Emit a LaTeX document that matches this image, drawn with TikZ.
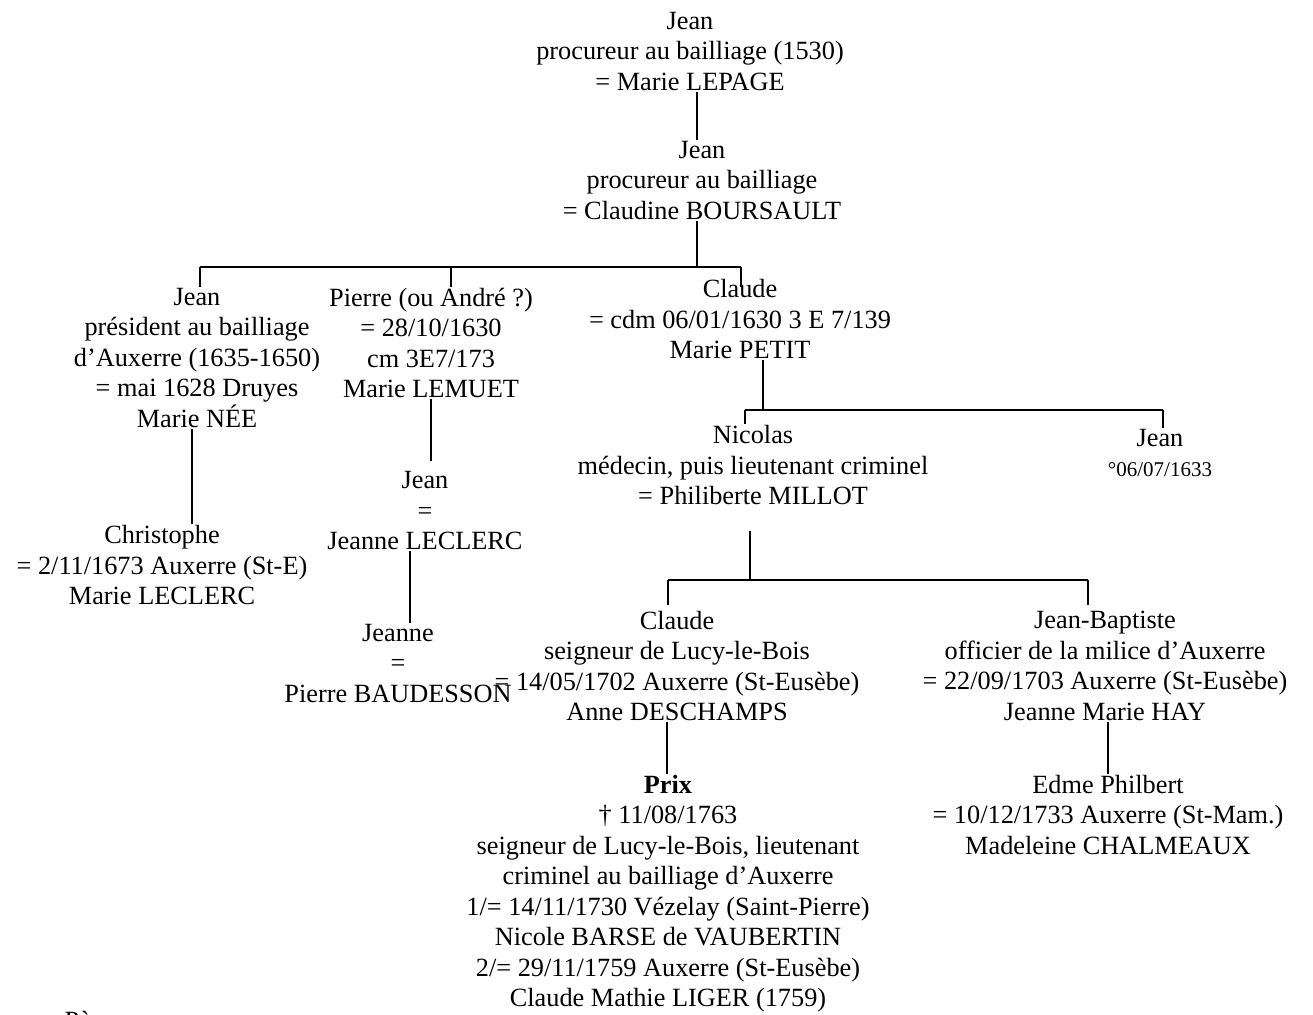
\documentclass[tikz,border=0pt]{standalone}
\usepackage{fontspec}
\setmainfont{Liberation Serif}
\begin{document}
\begin{tikzpicture}[x=1pt,y=-1pt,
  person/.style={font=\fontsize{26.3}{30.5}\selectfont, align=center, inner sep=1pt},
  conn/.style={line width=1.5pt}]
\useasboundingbox (0,0) rectangle (1313,1014);
% persons
\node[person] (A) at (690,51.5) {Jean\\procureur au bailliage (1530)\\= Marie LEPAGE};
\node[person] (B) at (702,180.5) {Jean\\procureur au bailliage\\= Claudine BOURSAULT};
\node[person] (C1) at (197,358) {Jean\\président au bailliage\\d’Auxerre (1635-1650)\\= mai 1628 Druyes\\Marie NÉE};
\node[person] (C2) at (431,343) {Pierre (ou André ?)\\= 28/10/1630\\cm 3E7/173\\Marie LEMUET};
\node[person] (C3) at (740,319.5) {Claude\\= cdm 06/01/1630 3 E 7/139\\Marie PETIT};
\node[person] (D1) at (162,565) {Christophe\\= 2/11/1673 Auxerre (St-E)\\Marie LECLERC};
\node[person] (D2) at (425,511) {Jean\\=\\Jeanne LECLERC};
\node[person] (E) at (398,663.5) {Jeanne\\=\\Pierre BAUDESSON};
\node[person] (F) at (753,465) {Nicolas\\médecin, puis lieutenant criminel\\= Philiberte MILLOT};
\node[person] (G) at (1160,453) {Jean\\{\fontsize{21}{26}\selectfont °06/07/1633}};
\node[person] (H1) at (677,666) {Claude\\seigneur de Lucy-le-Bois\\= 14/05/1702 Auxerre (St-Eusèbe)\\Anne DESCHAMPS};
\node[person] (H2) at (1105,666) {Jean-Baptiste\\officier de la milice d’Auxerre\\= 22/09/1703 Auxerre (St-Eusèbe)\\Jeanne Marie HAY};
\node[person] (I1) at (668,893.5) {\textbf{Prix}\\† 11/08/1763\\seigneur de Lucy-le-Bois, lieutenant\\criminel au bailliage d’Auxerre\\1/= 14/11/1730 Vézelay (Saint-Pierre)\\Nicole BARSE de VAUBERTIN\\2/= 29/11/1759 Auxerre (St-Eusèbe)\\Claude Mathie LIGER (1759)};
\node[person] (I2) at (1108,814.5) {Edme Philbert\\= 10/12/1733 Auxerre (St-Mam.)\\Madeleine CHALMEAUX};
\node[person, anchor=base] (P) at (88,1029) {Père};
% connectors
\coordinate (jB) at (697,267);
\coordinate (bL) at (200,267);
\coordinate (bM) at (451,267);
\coordinate (bR) at (741,267);
\draw[conn] (A.south -| jB) -- (B.north -| jB);
\draw[conn] (B.south -| jB) -- (jB);
\draw[conn] (bL) -- (bR);
\draw[conn] (bL) -- (bL |- C1.north);
\draw[conn] (bM) -- (bM |- C1.north);
\draw[conn] (bR) -- (bR |- C1.north);
\coordinate (x1) at (192,0);
\draw[conn] (C1.south -| x1) -- (D1.north -| x1);
\coordinate (x2) at (431,0);
\draw[conn, shorten >=10pt] (C2.south -| x2) -- (D2.north -| x2);
\coordinate (x3) at (410,0);
\draw[conn] (D2.south -| x3) -- (E.north -| x3);
\coordinate (jC) at (763,410);
\coordinate (cL) at (745,410);
\coordinate (cR) at (1163,410);
\draw[conn] (C3.south -| jC) -- (jC);
\draw[conn] (cL) -- (cR);
\draw[conn] (cL) -- (cL |- F.north);
\draw[conn] (cR) -- (cR |- G.north);
\coordinate (jF) at (750,580);
\coordinate (fL) at (668,580);
\coordinate (fR) at (1088,580);
\draw[conn, shorten <=25pt] (F.south -| jF) -- (jF);
\draw[conn] (fL) -- (fR);
\draw[conn, shorten >=5pt] (fL) -- (fL |- H1.north);
\draw[conn, shorten >=5pt] (fR) -- (fR |- H2.north);
\coordinate (x4) at (667,0);
\draw[conn] (H1.south -| x4) -- (I1.north -| x4);
\coordinate (x5) at (1108,0);
\draw[conn] (H2.south -| x5) -- (I2.north -| x5);
\end{tikzpicture}
\end{document}
